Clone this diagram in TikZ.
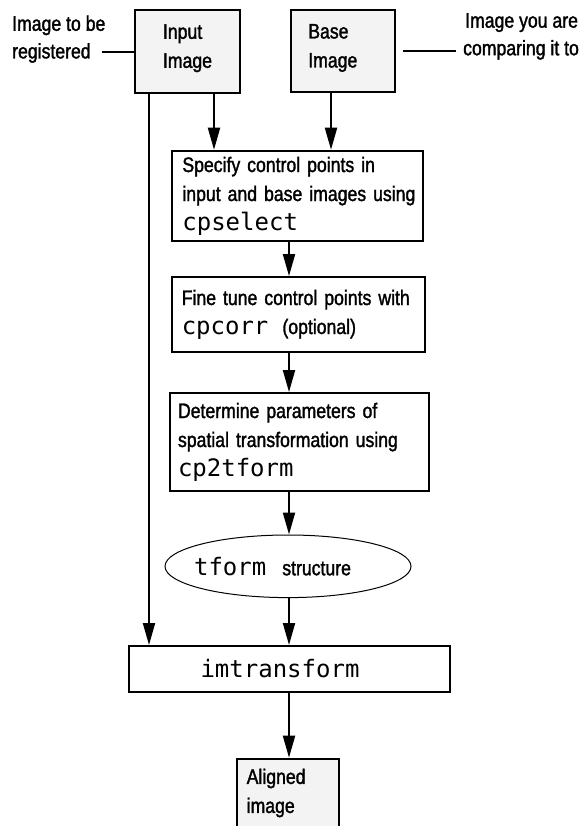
\documentclass[tikz,border=0pt]{standalone}
\usepackage{fontspec}
\setmainfont{Liberation Sans}[FakeStretch=0.84,FakeBold=1.5]
\newfontfamily\monofont{DejaVu Sans Mono}
\usetikzlibrary{arrows.meta,shapes.geometric}
\definecolor{boxfill}{RGB}{243,243,243}
\newcommand\mtt[1]{{\monofont\fontsize{24}{29}\selectfont #1}}
\newcommand\oneline[1]{\mbox{#1}}
\newcommand\lowpad{\rule[-10.5pt]{0pt}{1pt}}
\begin{document}
\begin{tikzpicture}[x=1pt,y=-1pt,
  font=\fontsize{21}{29}\selectfont,
  box/.style={draw, line width=2pt, rectangle, inner ysep=0pt, align=left},
  gbox/.style={box, fill=boxfill},
  ell/.style={draw, ellipse, line width=1pt, inner sep=0pt, minimum width=246pt, minimum height=62.6pt},
  lbl/.style={inner sep=0pt, align=left, anchor=north west, font=\fontsize{21}{27.6}\selectfont},
  arr/.style={line width=2pt, -{Triangle[length=22pt,width=12pt]}},
  conn/.style={line width=2pt}]
\useasboundingbox (0,0) rectangle (585,826);

% top boxes
\node[gbox, minimum width=105pt, minimum height=82.7pt] (input) at (187.5,51.35) {Input\\Image\lowpad};
\node[gbox, text width=69.1pt, inner xsep=17.6pt, minimum height=82pt] (base) at (342.85,51) {Base\\Image\lowpad};

% side labels
\node[lbl] (lblL) at (12,15.4) {Image to be\\registered};
\node[lbl] (lblR) at (465,13) {Image you are\\\hspace*{-2pt}comparing it to};
\coordinate (lL) at (101.7,51.7);
\coordinate (rL) at (403,50.7);
\coordinate (rR) at (456,50.7);
\draw[conn] (lL) -- (lL -| input.west);
\draw[conn] (rL) -- (rR);

% process boxes
\node[box, text width=230pt, inner xsep=10.65pt, minimum height=90.3pt] (spec) at (297.4,195.9)
  {\oneline{Specify control points in}\\\oneline{input and base images using}\\\mtt{cpselect}};
\node[box, text width=233.3pt, inner xsep=10pt, minimum height=74.7pt] (fine) at (298.4,314.4)
  {\oneline{Fine tune control points with}\\\oneline{\mtt{cpcorr}\hspace{14pt}(optional)}};
\node[box, text width=243pt, inner xsep=8pt, minimum height=97.7pt] (det) at (299.5,441.9)
  {\oneline{Determine parameters of}\\\oneline{spatial transformation using}\\\mtt{cp2tform}};
\node[ell] (ell) at (288,566.3) {\makebox[0pt]{\mtt{tform}\hspace{16pt}structure\hspace{31pt}}};
\node[box, minimum width=321pt, minimum height=46pt] (imt) at (289.5,669) {\mtt{imtransform}\hspace{19pt}};
\node[gbox, anchor=north, text width=82.6pt, inner xsep=9.7pt, inner ysep=10pt] (out) at (288,757.7)
  {Aligned\\image\\~\\~};

% connectors
\coordinate (xA) at (149,0);
\coordinate (xB) at (214,0);
\coordinate (xC) at (331,0);
\coordinate (xD) at (289,0);
\draw[arr] (input.south -| xA) -- (imt.north -| xA);
\draw[arr] (input.south -| xB) -- (spec.north -| xB);
\draw[arr] (base.south -| xC) -- (spec.north -| xC);
\draw[arr] (spec.south -| xD) -- (fine.north -| xD);
\draw[arr] (fine.south -| xD) -- (det.north -| xD);
\draw[arr] (det.south -| xD) -- (ell.north -| xD);
\draw[arr] (ell.south -| xD) -- (imt.north -| xD);
\draw[arr] (imt.south -| xD) -- (out.north -| xD);
\end{tikzpicture}
\end{document}
